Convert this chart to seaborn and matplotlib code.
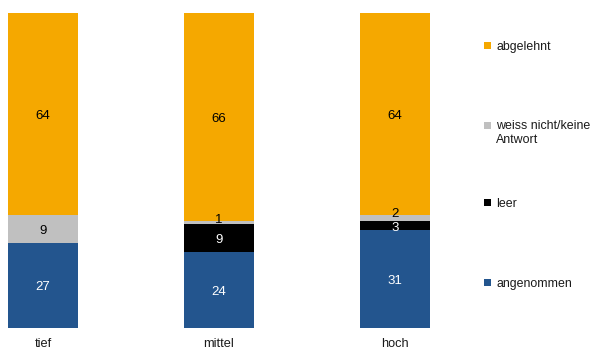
import matplotlib
matplotlib.use("Agg")
import matplotlib.pyplot as plt
from matplotlib.patches import Patch, Rectangle
from matplotlib.legend_handler import HandlerPatch
from matplotlib.transforms import offset_copy
import numpy as np
import pandas as pd
import seaborn as sns

categories = ["tief", "mittel", "hoch"]
angenommen = [27, 24, 31]
leer = [0, 9, 3]
weiss_nicht = [9, 1, 2]
abgelehnt = [64, 66, 64]

series_names = ["angenommen", "leer", "weiss nicht/keine\nAntwort", "abgelehnt"]
series_values = [angenommen, leer, weiss_nicht, abgelehnt]
colors = ["#23558E", "#000000", "#C0C0C0", "#F5A800"]
label_colors = ["white", "white", "black", "black"]

sns.set_theme(style="white")
plt.rcParams["font.family"] = ["Liberation Sans", "DejaVu Sans"]

fig = plt.figure(figsize=(5.92, 3.51), dpi=100)
ax = fig.add_axes([0.0, 23 / 351, 470 / 592, 315 / 351])

vals = np.array(series_values, dtype=float)
cum = np.cumsum(vals, axis=0)

# Stacked bars: draw cumulative totals from the top layer down
for i in range(len(series_names) - 1, -1, -1):
    df = pd.DataFrame({"cat": categories, "val": cum[i]})
    sns.barplot(data=df, x="cat", y="val", color=colors[i], width=0.4,
                saturation=1, ax=ax, linewidth=0)

# Segment value labels; thin grey segments get theirs lifted to the upper edge
label_tr = offset_copy(ax.transData, fig=fig, x=0, y=-2, units="dots")
lift_tr = offset_copy(ax.transData, fig=fig, x=0, y=1, units="dots")
for i in range(len(series_names)):
    for j in range(len(categories)):
        v = vals[i, j]
        if v <= 0:
            continue
        if v < 3 and i == 2:
            y, tr = cum[i, j], lift_tr
        else:
            y, tr = cum[i, j] - v / 2, label_tr
        ax.text(j, y, f"{int(v)}", ha="center", va="center",
                fontsize=9.5, color=label_colors[i], transform=tr)

ax.set_xlim(-43 / 176, (470 - 43) / 176)
ax.set_ylim(0, 100)
ax.set_xlabel("")
ax.set_ylabel("")
ax.set_yticks([])
ax.tick_params(axis="x", length=0, pad=7, labelsize=9.2, colors="#1a1a1a")
for s in ax.spines.values():
    s.set_visible(False)


def square_top(shift):
    def make(legend, orig_handle, xdescent, ydescent, width, height, fontsize):
        return Rectangle((-xdescent, -ydescent + shift), width, height)
    return make


# Legend entries, one per series, spaced down the right side
legend_y = [46, 125, 203, 283]
order = [3, 2, 1, 0]
for yy, idx in zip(legend_y, order):
    handle = Patch(facecolor=colors[idx], edgecolor="none")
    lab = series_names[idx]
    n_lines = lab.count("\n")
    shift = 5.3 * n_lines
    leg = fig.legend(handles=[handle], labels=[lab], loc="upper left",
                     bbox_to_anchor=(484 / 592, 1 - (yy - 5) / 351),
                     frameon=False, fontsize=8.9, handlelength=0.55,
                     handleheight=0.55, handletextpad=0.45, borderpad=0,
                     borderaxespad=0,
                     handler_map={Patch: HandlerPatch(patch_func=square_top(shift))})
    for t in leg.get_texts():
        t.set_color("#1a1a1a")

fig.savefig("out.png", dpi=100)
